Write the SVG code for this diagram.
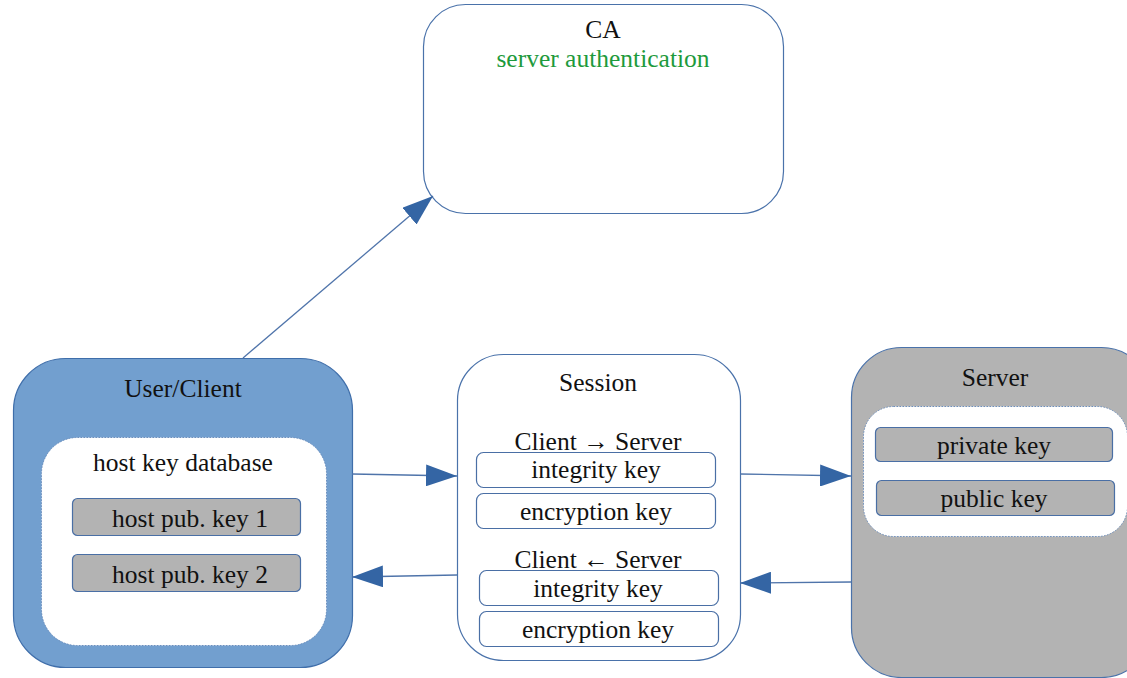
<svg xmlns="http://www.w3.org/2000/svg" width="1127" height="678" viewBox="0 0 1127 678">
<style>
text{font-family:"Liberation Serif","Times New Roman",serif;font-size:25.5px;fill:#111;text-anchor:middle}
.green{fill:#1e9a3c}
.outline{fill:#fff;stroke:#4a72aa;stroke-width:1.2}
.inner{fill:#fff;stroke:#6d8fbd;stroke-width:1;stroke-dasharray:1.5 1.5}
.key{fill:#b3b3b3;stroke:#4a6fa5;stroke-width:1.2}
.skey{fill:#fff;stroke:#4a6fa5;stroke-width:1.2}
.conn{stroke:#4f74aa;stroke-width:1.3;fill:none;marker-end:url(#ah)}
</style>
<defs>
<marker id="ah" markerUnits="userSpaceOnUse" markerWidth="32" markerHeight="22" refX="31" refY="11" orient="auto">
<path d="M0,0 L31,11 L0,22 Z" fill="#3465a4"/>
</marker>
</defs>
<g id="ca">
<rect class="outline" x="423.5" y="4.5" width="360" height="209" rx="42"/>
<text x="603" y="38">CA</text>
<text class="green" x="603" y="67">server authentication</text>
</g>
<g id="user-client">
<rect x="13.5" y="358.5" width="339" height="309" rx="52" fill="#729fcf" stroke="#3f6eaa" stroke-width="1.2"/>
<text x="183" y="397">User/Client</text>
<rect class="inner" x="41.5" y="437.5" width="285" height="208" rx="36"/>
<text x="183" y="471">host key database</text>
<rect class="key" x="72.5" y="498.5" width="228" height="37" rx="5"/>
<text x="190" y="527">host pub. key 1</text>
<rect class="key" x="72.5" y="554.5" width="228" height="37" rx="5"/>
<text x="190" y="583">host pub. key 2</text>
</g>
<g id="session">
<rect class="outline" x="457.5" y="354.5" width="283" height="306" rx="46"/>
<text x="598" y="391">Session</text>
<text x="598" y="450">Client → Server</text>
<rect class="skey" x="476.5" y="452.5" width="239" height="35" rx="7"/>
<text x="596" y="478">integrity key</text>
<rect class="skey" x="476.5" y="493.5" width="239" height="35" rx="7"/>
<text x="596" y="520">encryption key</text>
<text x="598" y="568">Client ← Server</text>
<rect class="skey" x="479.5" y="570.5" width="239" height="35" rx="7"/>
<text x="598" y="597">integrity key</text>
<rect class="skey" x="479.5" y="611.5" width="239" height="35" rx="7"/>
<text x="598" y="638">encryption key</text>
</g>
<g id="server">
<rect x="851.5" y="347.5" width="300" height="330" rx="50" fill="#b3b3b3" stroke="#4a72aa" stroke-width="1.2"/>
<text x="995" y="386">Server</text>
<rect class="inner" x="863.5" y="406.5" width="264" height="130" rx="30"/>
<rect class="key" x="875.5" y="427.5" width="237" height="34" rx="5"/>
<text x="994" y="454">private key</text>
<rect class="key" x="876.5" y="480.5" width="238" height="35" rx="5"/>
<text x="994" y="507">public key</text>
</g>
<g id="connectors">
<path class="conn" d="M243,358 L433,196"/>
<path class="conn" d="M352,474 L457,476"/>
<path class="conn" d="M740,474 L851,476"/>
<path class="conn" d="M851,582 L740,583"/>
<path class="conn" d="M457,575 L352,577"/>
</g>
</svg>
